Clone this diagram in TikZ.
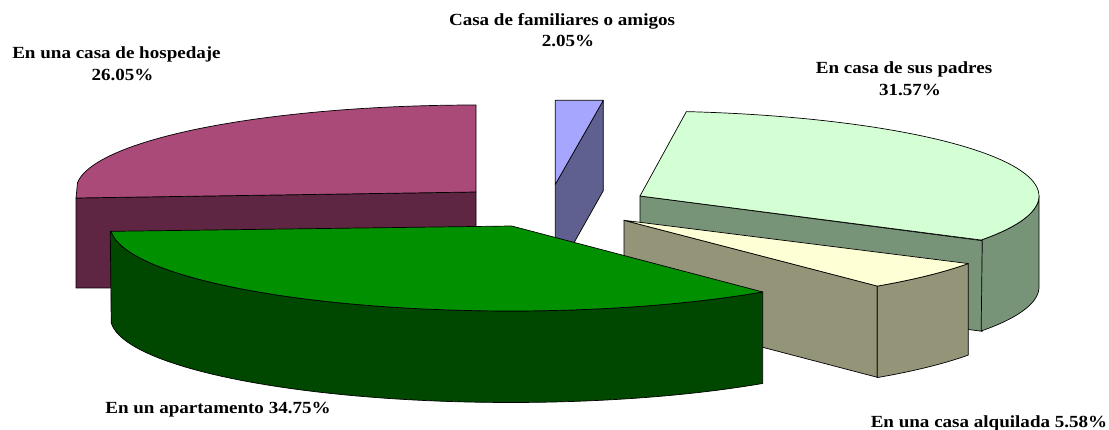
\documentclass[tikz,border=0pt]{standalone}
\usepackage{fontspec}
\setmainfont[FakeStretch=1.12]{Liberation Serif}
\definecolor{pinktop}{HTML}{A94A78}
\definecolor{pinkside}{HTML}{5E2642}
\definecolor{greentop}{HTML}{009000}
\definecolor{greenside}{HTML}{004800}
\definecolor{bluetop}{HTML}{A6A6FF}
\definecolor{blueside}{HTML}{606090}
\definecolor{minttop}{HTML}{D4FFD4}
\definecolor{mintside}{HTML}{779479}
\definecolor{creamtop}{HTML}{FFFFD6}
\definecolor{creamside}{HTML}{949478}
\tikzset{
  slice/.style={draw=black,line width=0.7pt,line join=round},
  lbl/.style={font=\fontsize{17}{21.5}\selectfont\bfseries,align=center,inner sep=0pt},
  % elliptical rim (radii 400 x 85): centre x, centre y, start angle, end angle
  rim/.style n args={4}{insert path={-- plot[domain=#3:#4,samples=60] ({#1+400*cos(\x)},{#2+85*sin(\x)})}}
}
\begin{document}
\begin{tikzpicture}[x=1pt,y=-1pt]
\useasboundingbox (0,0) rectangle (1109,430);
% pink slice
\draw[slice,fill=pinkside] (76,198) -- (476,192) -- (476,288) -- (76,288) -- cycle;
\draw[slice,fill=pinktop] (476,192) [rim={476}{190}{-90}{-175}] -- (76,198) -- cycle;
% blue slice
\draw[slice,fill=blueside] (555.3,184.3) -- (603.3,100.3) -- (603.3,190.7) -- (555.3,276) -- cycle;
\draw[slice,fill=bluetop] (555.3,100.3) -- (603.3,100.3) -- (555.3,184.3) -- cycle;
% mint slice
\draw[slice,fill=mintside] (640,196) -- (982.3,240.7) -- (982.3,331.3) -- (640,287) -- cycle;
\draw[slice,fill=mintside] (982.3,240.7) [rim={639}{196}{31.2}{0}] [rim={639}{287}{0}{31.2}] -- cycle;
\draw[slice,fill=minttop] (640,196) [rim={639}{196}{-83.2}{31.2}] -- cycle;
% cream slice
\draw[slice,fill=creamside] (624,220.3) -- (877.3,286) -- (877.3,377.3) -- (624,311) -- cycle;
\draw[slice,fill=creamside] (877.3,286) [rim={624}{220.3}{50.7}{30.6}] [rim={624}{311.8}{30.6}{50.7}] -- cycle;
\draw[slice,fill=creamtop] (624,220.3) [rim={624}{220.3}{30.6}{50.7}] -- cycle;
% green slice
\draw[slice,fill=greenside] (110.3,231.3) [rim={510.4}{226}{176.4}{50.9}] [rim={510.4}{317.5}{50.9}{176.4}] -- cycle;
\draw[slice,fill=greentop] (511.7,226) [rim={510.4}{226}{50.9}{176.4}] -- cycle;
% labels
\node[lbl] (familia) at (568,30) {Casa de familiares o amigos\hspace*{12pt}\\2.05\%};
\node[lbl] (hospedaje) at (122.5,63.5) {En una casa de hospedaje\hspace*{12pt}\\26.05\%};
\node[lbl] (padres) at (910,78.5) {En casa de sus padres\hspace*{12pt}\\31.57\%};
\node[lbl] (apto) at (218,409.5) {En un apartamento 34.75\%};
\node[lbl] (alquilada) at (989,423) {En una casa alquilada 5.58\%};
\end{tikzpicture}
\end{document}
